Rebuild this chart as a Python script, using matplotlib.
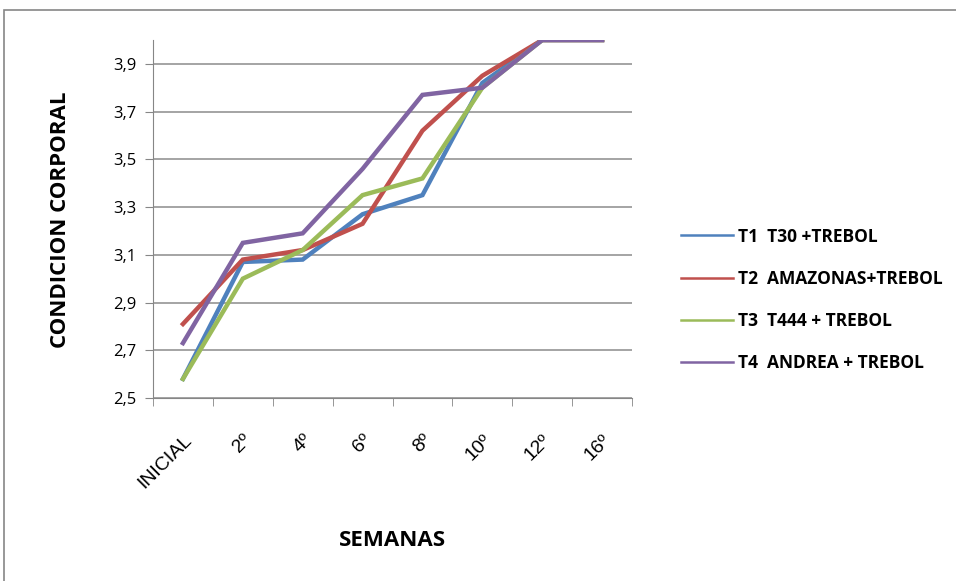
import matplotlib.pyplot as plt
from matplotlib.lines import Line2D
from matplotlib.patches import Rectangle
import numpy as np

# condicion corporal por semana y tratamiento
semanas = ["INICIAL", "2º", "4º", "6º", "8º", "10º", "12º", "16º"]

t1 = [2.58, 3.07, 3.08, 3.27, 3.35, 3.82, 4.00, 4.00]
t2 = [2.81, 3.08, 3.12, 3.23, 3.62, 3.85, 4.00, 4.00]
t3 = [2.58, 3.00, 3.12, 3.35, 3.42, 3.80, 4.00, 4.00]
t4 = [2.73, 3.15, 3.19, 3.46, 3.77, 3.80, 4.00, 4.00]

nombres = ["T1  T30 +TREBOL", "T2  AMAZONAS+TREBOL",
           "T3  T444 + TREBOL", "T4  ANDREA + TREBOL"]
colores = ["#4F81BD", "#C0504D", "#9BBB59", "#8064A2"]

plt.rcParams['font.family'] = ['Open Sans', 'DejaVu Sans']

fig = plt.figure(figsize=(9.56, 5.81), dpi=100)
fig.patches.append(Rectangle((4/956, -0.02), 1.0, 1 - 10/581 + 0.02,
                             transform=fig.transFigure, fill=False,
                             edgecolor="#868686", linewidth=1.2))

ax = fig.add_axes([153/956, 1 - 398/581, (632 - 153)/956, (398 - 40)/581])

x = np.arange(len(semanas))
for serie, nombre, col in zip([t1, t2, t3, t4], nombres, colores):
    ax.plot(x, serie, color=col, linewidth=3.2, label=nombre,
            solid_joinstyle="miter")

ax.set_xlim(-0.5, len(semanas) - 0.5)
ax.set_ylim(2.5, 4.0)
ax.set_yticks(np.arange(2.5, 3.95, 0.2))
ax.set_yticklabels([f"{v:.1f}".replace(".", ",") for v in np.arange(2.5, 3.95, 0.2)],
                   fontsize=12)
ax.yaxis.grid(True, color="#8c8c8c", linewidth=1.1)
ax.set_axisbelow(True)

ax.set_xticks(x)
ax.set_xticklabels(semanas, rotation=45, ha="right", rotation_mode="anchor",
                   fontsize=14, family="Liberation Sans")
ax.set_xticks(np.arange(-0.5, len(semanas), 1.0), minor=True)
ax.tick_params(axis="x", which="major", length=0, pad=24)
ax.tick_params(axis="x", which="minor", length=6, color="#868686")
ax.tick_params(axis="y", length=6, color="#868686", pad=6)

for s in ["top", "right"]:
    ax.spines[s].set_visible(False)
for s in ["left", "bottom"]:
    ax.spines[s].set_color("#868686")

fig.text(60/956, 1 - 220/581, "CONDICION CORPORAL", rotation=90,
         ha="center", va="center", fontsize=16, fontweight="bold")
fig.text(392/956, 1 - 540/581, "SEMANAS", ha="center", va="center",
         fontsize=16, fontweight="bold")

handles = [Line2D([], [], color=c, linewidth=1.8) for c in colores]
fig.legend(handles, nombres, loc="center left",
           bbox_to_anchor=(665/956, 1 - 300/581), frameon=False,
           handlelength=3.0, handletextpad=0.3,
           labelspacing=1.4, prop={"weight": "bold", "size": 12.5})

fig.savefig("out.png", dpi=100)
